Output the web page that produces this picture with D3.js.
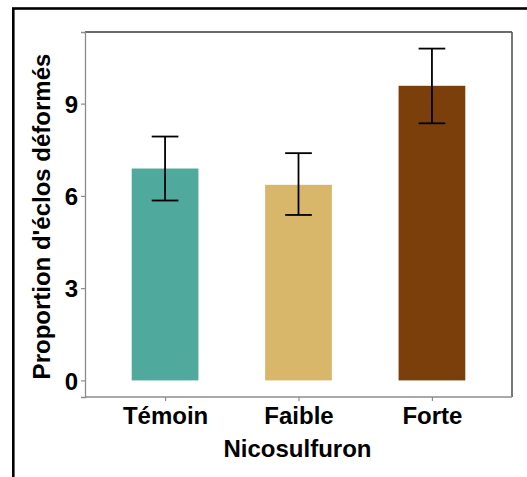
<!DOCTYPE html>
<html>
<head>
<meta charset="utf-8">
<script src="https://cdn.jsdelivr.net/npm/d3@7"></script>
<style>
html,body{margin:0;padding:0;background:#fff;}
svg{display:block;}
text{font-family:"Liberation Sans",Arial,sans-serif;font-weight:bold;fill:#000;}
</style>
</head>
<body>
<svg id="chart" width="527" height="477"></svg>
<script>
const categories = ["Témoin", "Faible", "Forte"];
const means = [6.89, 6.36, 9.58];
const lower = [5.85, 5.38, 8.36];
const upper = [7.93, 7.39, 10.79];
const colors = ["#4fa99d", "#d8b66a", "#7a3f0b"];
const yTicks = [0, 3, 6, 9];
const xTitle = "Nicosulfuron";
const yTitle = "Proportion d'éclos déformés";

const svg = d3.select("#chart");
const W = 527, H = 477;
const panel = {left: 85, right: 512, top: 32, bottom: 397};

// outer frame
svg.append("rect").attr("x", 13.3).attr("y", 8.5).attr("width", W).attr("height", H)
  .attr("fill", "none").attr("stroke", "#000").attr("stroke-width", 2.6);

// x scale: ggplot discrete expansion (0.6 each side)
const n = categories.length;
const unit = (panel.right - panel.left) / (n - 1 + 1.2);
const x = d3.scalePoint().domain(categories)
  .range([panel.left + 0.6 * unit, panel.right - 0.6 * unit]);
const barW = 0.5 * unit, whiskW = 0.2 * unit;

const ymax = d3.max(upper), ymin = 0;
const ex = (ymax - ymin) * 0.05;
const y = d3.scaleLinear().domain([ymin - ex, ymax + ex]).range([panel.bottom, panel.top]);

// bars
const data = categories.map((c, i) => ({c, m: means[i], lo: lower[i], hi: upper[i], col: colors[i]}));
svg.append("g").selectAll("rect").data(data).join("rect")
  .attr("x", d => x(d.c) - barW / 2)
  .attr("y", d => y(d.m))
  .attr("width", barW)
  .attr("height", d => y(0) - y(d.m))
  .attr("fill", d => d.col);

// error bars
const eb = svg.append("g").attr("stroke", "#000").attr("stroke-width", 1.8).attr("fill", "none");
data.forEach(d => {
  eb.append("line").attr("x1", x(d.c)).attr("x2", x(d.c)).attr("y1", y(d.lo)).attr("y2", y(d.hi));
  eb.append("line").attr("x1", x(d.c) - whiskW / 2).attr("x2", x(d.c) + whiskW / 2).attr("y1", y(d.lo)).attr("y2", y(d.lo));
  eb.append("line").attr("x1", x(d.c) - whiskW / 2).attr("x2", x(d.c) + whiskW / 2).attr("y1", y(d.hi)).attr("y2", y(d.hi));
});

// panel border
svg.append("line").attr("x1", panel.left).attr("x2", panel.right).attr("y1", panel.top).attr("y2", panel.top)
  .attr("stroke", "#3a3a3a").attr("stroke-width", 1.5);
svg.append("line").attr("x1", panel.right).attr("x2", panel.right).attr("y1", panel.top).attr("y2", panel.bottom)
  .attr("stroke", "#555").attr("stroke-width", 1.6);

// axes
const yAxis = d3.axisLeft(y).tickValues(yTicks).tickSize(4).tickPadding(3);
const gy = svg.append("g").attr("transform", `translate(${panel.left},0)`).call(yAxis);
gy.select(".domain").attr("stroke", "#8c8c8c").attr("stroke-width", 1.3);
gy.selectAll(".tick line").attr("stroke", "#8c8c8c").attr("stroke-width", 1.2);
gy.selectAll(".tick text").attr("font-size", 24).attr("font-family", "Liberation Sans, Arial, sans-serif").attr("font-weight", "bold").attr("fill", "#000").attr("dy", "0.36em");

const xAxis = d3.axisBottom(x).tickSize(4).tickPadding(6);
const gx = svg.append("g").attr("transform", `translate(0,${panel.bottom})`).call(xAxis);
gx.select(".domain").attr("stroke", "#8c8c8c").attr("stroke-width", 1.3).attr("d", `M${panel.left},0H${panel.right}`);
gx.selectAll(".tick line").attr("stroke", "#8c8c8c").attr("stroke-width", 1.2);
gx.selectAll(".tick text").attr("font-size", 24).attr("font-family", "Liberation Sans, Arial, sans-serif").attr("font-weight", "bold").attr("fill", "#000").attr("dy", "0.71em");

// titles
svg.append("text").attr("x", (panel.left + panel.right) / 2 - 1).attr("y", 457)
  .attr("text-anchor", "middle").attr("font-size", 24).text(xTitle);
svg.append("text").attr("transform", `translate(50,${(panel.top + panel.bottom) / 2 + 2}) rotate(-90)`)
  .attr("text-anchor", "middle").attr("font-size", 24).text(yTitle);
</script>
</body>
</html>
